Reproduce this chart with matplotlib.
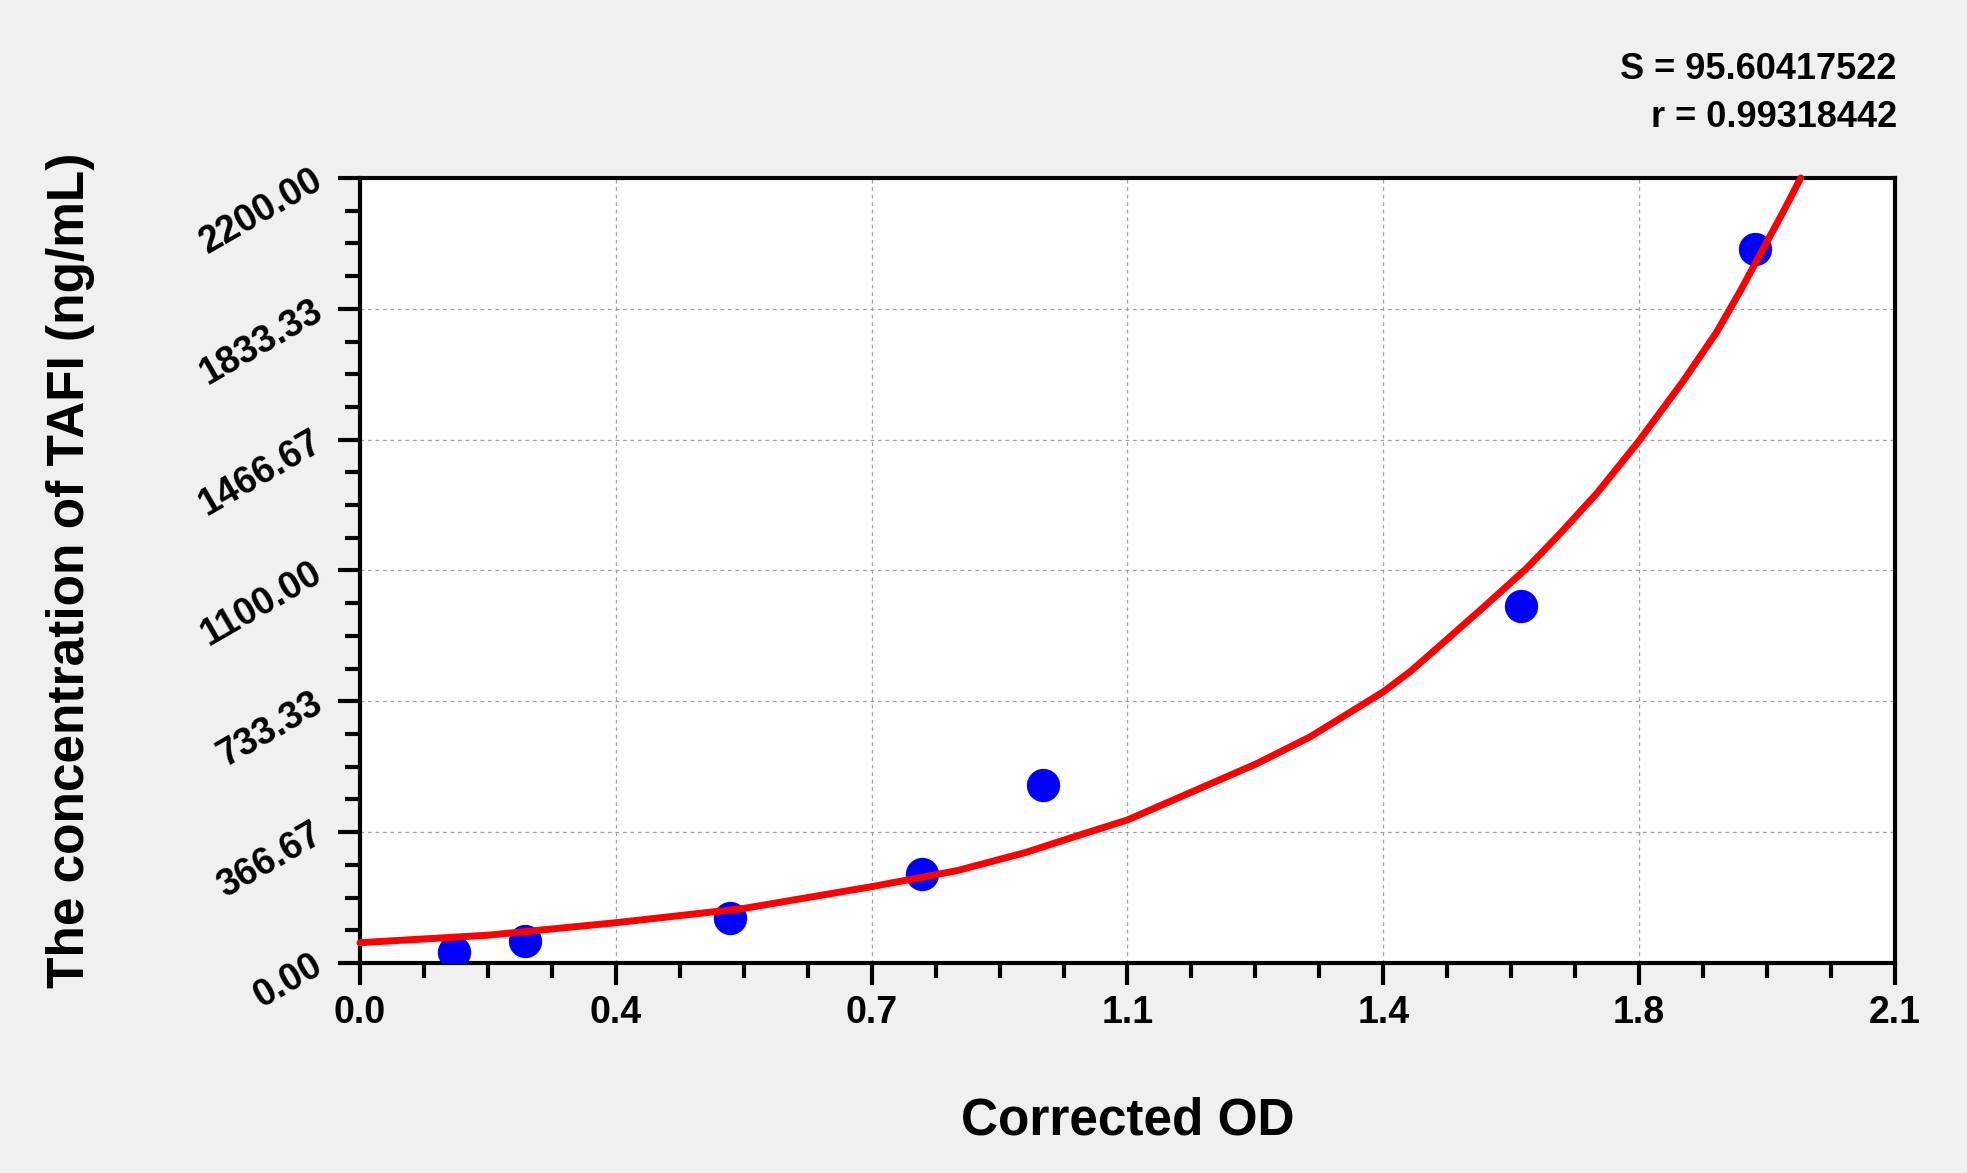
import matplotlib
matplotlib.use("Agg")
import matplotlib.pyplot as plt
from matplotlib.ticker import MultipleLocator

# standard points (corrected OD vs concentration)
od = [0.128, 0.226, 0.506, 0.769, 0.935, 1.588, 1.909]
conc = [31.25, 62.5, 125, 250, 500, 1000, 2000]

# fitted curve
fit_od = [0.0, 0.175, 0.35, 0.525, 0.7, 0.817, 0.911, 0.985, 1.05, 1.226,
          1.3, 1.4, 1.4375, 1.486, 1.537, 1.596, 1.642, 1.692, 1.749, 1.81,
          1.856, 1.888, 1.92, 1.947, 1.971]
fit_conc = [57, 78, 113, 153, 214, 259, 310, 359, 401, 558,
            634, 760, 818, 905, 997, 1106, 1204, 1316, 1461, 1630,
            1768, 1882, 2003, 2105, 2200]

x_ticks = [0.0, 0.35, 0.7, 1.05, 1.4, 1.75, 2.1]
x_labels = ["0.0", "0.4", "0.7", "1.1", "1.4", "1.8", "2.1"]
y_ticks = [0, 366.67, 733.33, 1100, 1466.67, 1833.33, 2200]
y_labels = ["0.00", "366.67", "733.33", "1100.00", "1466.67", "1833.33", "2200.00"]

stat_s = "S = 95.60417522"
stat_r = "r = 0.99318442"

plt.rcParams['font.family'] = ['Liberation Sans', 'DejaVu Sans']
plt.rcParams['font.weight'] = 'bold'

fig = plt.figure(figsize=(19.67, 11.73), dpi=100)
fig.patch.set_facecolor('#F0F0F0')
ax = fig.add_axes([0.1830, 0.1790, 0.7804, 0.6693])
ax.set_facecolor('white')

ax.scatter(od, conc, s=24 ** 2, color='#0000FF', zorder=3, linewidths=0)
ax.plot(fit_od, fit_conc, color='#FF0000', lw=5, zorder=4, clip_on=False,
        solid_capstyle='round', solid_joinstyle='round')

ax.set_xlim(0, 2.1)
ax.set_ylim(0, 2200)
ax.set_xticks(x_ticks)
ax.set_xticklabels(x_labels, fontsize=27, fontweight='bold')
ax.set_yticks(y_ticks)
ax.set_yticklabels(y_labels, fontsize=27, fontweight='bold', rotation=30,
                   ha='right', va='center', rotation_mode='anchor')
ax.xaxis.set_minor_locator(MultipleLocator(0.0875))
ax.yaxis.set_minor_locator(MultipleLocator(2200 / 24))

ax.tick_params(which='major', direction='out', length=16, width=3)
ax.tick_params(which='minor', direction='out', length=10.5, width=3)
ax.tick_params(axis='x', which='major', pad=7)
ax.tick_params(axis='y', which='major', pad=13)
ax.tick_params(top=False, right=False, which='both')

for sp in ax.spines.values():
    sp.set_linewidth(3)
    sp.set_color('black')

ax.grid(True, which='major', color='#A0A0A0', lw=0.9, linestyle=(0, (3, 3)))
ax.set_axisbelow(True)

fig.text(0.5733, 0.0324, "Corrected OD", fontsize=37, fontweight='bold',
         ha='center', va='baseline')
fig.text(0.0356, 0.514, "The concentration of TAFI (ng/mL)", fontsize=37,
         fontweight='bold', rotation=90, ha='center', va='center')

fig.text(0.9644, 0.9327, stat_s, fontsize=26, fontweight='bold',
         ha='right', va='baseline')
fig.text(0.9644, 0.8917, stat_r, fontsize=26, fontweight='bold',
         ha='right', va='baseline')

fig.savefig("out.png", dpi=100, facecolor=fig.get_facecolor())
